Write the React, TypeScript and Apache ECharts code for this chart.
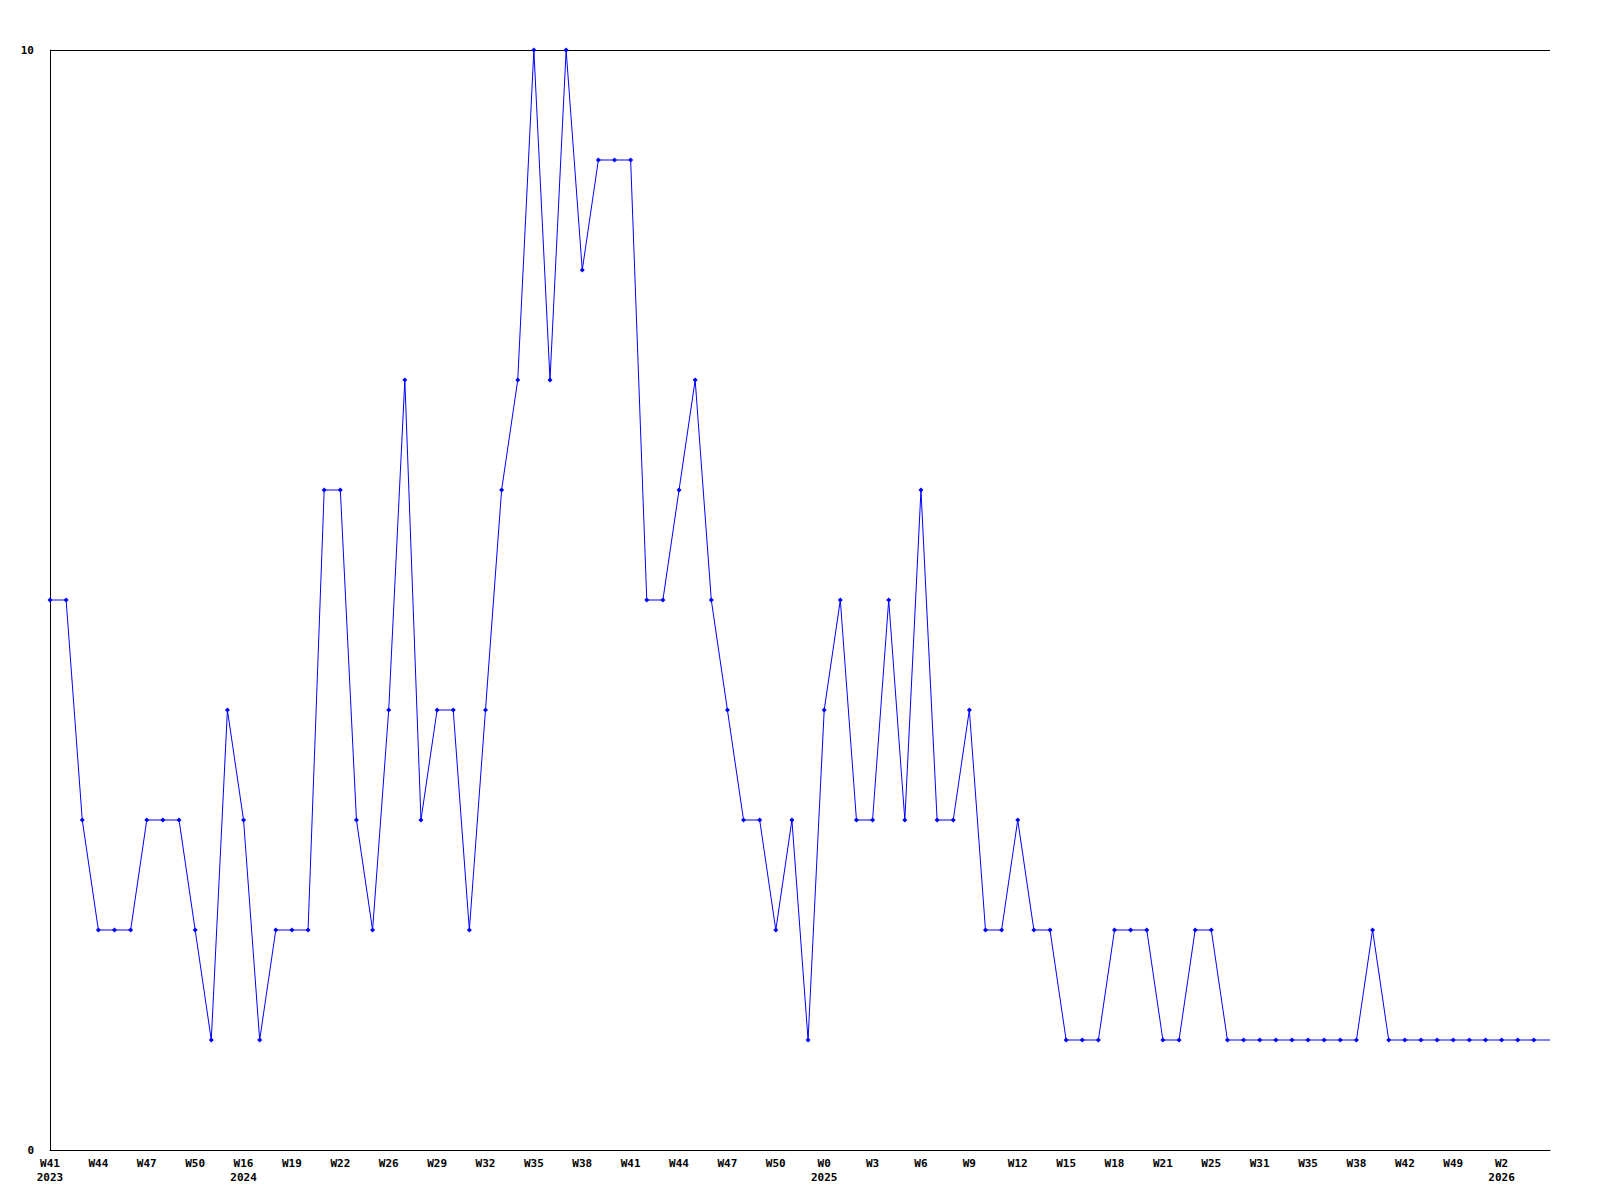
import React, { useEffect, useRef } from "react";
import * as echarts from "echarts";

const weekLabels: string[] = [
  "W41\n2023", "W42", "W43", "W44", "W45", "W46", "W47", "W48", "W49", "W50", "W51", "W52",
  "W16\n2024", "W17", "W18", "W19", "W20", "W21", "W22", "W23", "W25", "W26", "W27", "W28",
  "W29", "W30", "W31", "W32", "W33", "W34", "W35", "W36", "W37", "W38", "W39", "W40",
  "W41", "W42", "W43", "W44", "W45", "W46", "W47", "W48", "W49", "W50", "W51", "W52",
  "W0\n2025", "W1", "W2", "W3", "W4", "W5", "W6", "W7", "W8", "W9", "W10", "W11",
  "W12", "W13", "W14", "W15", "W16", "W17", "W18", "W19", "W20", "W21", "W22", "W24",
  "W25", "W27", "W29", "W31", "W33", "W34", "W35", "W36", "W37", "W38", "W39", "W40",
  "W42", "W44", "W47", "W49", "W50", "W52", "W2\n2026", "W3", "W4", "W5",
];

const counts: number[] = [
  5, 5, 3, 2, 2, 2, 3, 3, 3, 2, 1, 4,
  3, 1, 2, 2, 2, 6, 6, 3, 2, 4, 7, 3,
  4, 4, 2, 4, 6, 7, 10, 7, 10, 8, 9, 9,
  9, 5, 5, 6, 7, 5, 4, 3, 3, 2, 3, 1,
  4, 5, 3, 3, 5, 3, 6, 3, 3, 4, 2, 2,
  3, 2, 2, 1, 1, 1, 2, 2, 2, 1, 1, 2,
  2, 1, 1, 1, 1, 1, 1, 1, 1, 1, 2, 1,
  1, 1, 1, 1, 1, 1, 1, 1, 1, 1,
];

const yTicks = [0, 10];

export default function App() {
  const ref = useRef<HTMLDivElement>(null);
  useEffect(() => {
    if (!ref.current) return;
    const chart = echarts.init(ref.current, null, { renderer: "svg" });
    const font = "'DejaVu Sans Mono', monospace";
    const lastIdx = counts.length - 1;
    const seriesData = counts.map((v, i) =>
      i === lastIdx ? { value: v, symbol: "none" } : v
    );
    chart.setOption({
      animation: false,
      backgroundColor: "#ffffff",
      grid: { left: 50, right: 50, top: 50, bottom: 50, containLabel: false },
      xAxis: {
        type: "category",
        data: weekLabels,
        boundaryGap: false,
        axisLine: { show: true, lineStyle: { color: "#000", width: 1 } },
        axisTick: { show: false },
        axisLabel: {
          interval: (idx: number) => idx % 3 === 0 && idx < lastIdx,
          color: "#000",
          fontFamily: font,
          fontWeight: "bold",
          fontSize: 11,
          lineHeight: 14,
          margin: 6,
        },
        splitLine: { show: false },
      },
      yAxis: {
        type: "value",
        min: yTicks[0],
        max: yTicks[1],
        interval: 10,
        axisLine: { show: true, lineStyle: { color: "#000", width: 1 } },
        axisTick: { show: false },
        axisLabel: {
          color: "#000",
          fontFamily: font,
          fontWeight: "bold",
          fontSize: 11,
          margin: 16,
        },
        splitLine: { show: true, lineStyle: { color: "#000", width: 1 } },
      },
      series: [
        {
          type: "line",
          data: seriesData,
          symbol: "diamond",
          symbolSize: 5,
          showAllSymbol: true,
          lineStyle: { color: "#0000ff", width: 1 },
          itemStyle: { color: "#0000ff" },
        },
      ],
    });
    return () => chart.dispose();
  }, []);
  return (
    <div
      ref={ref}
      style={{ position: "fixed", left: 0, top: 0, width: 1600, height: 1200 }}
    />
  );
}
